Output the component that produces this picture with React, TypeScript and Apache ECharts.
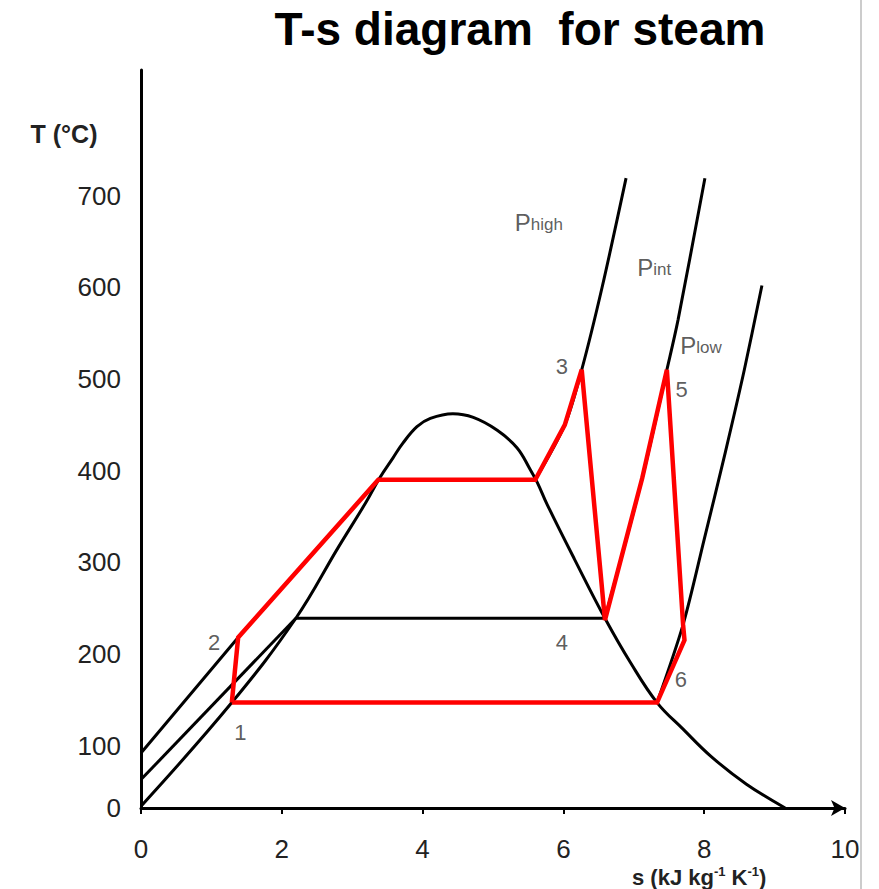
import React, { useEffect, useRef } from 'react';
import * as echarts from 'echarts';

// ---- axis ticks ----
const xTickValues = [0, 2, 4, 6, 8, 10];
const yTickValues = [32, 100, 200, 300, 400, 500, 600, 700];
const yTickLabels = ['0', '100', '200', '300', '400', '500', '600', '700'];

// ---- saturation dome (s in kJ/kg K, T in °C as drawn) ----
const domeS = [0, 1.29, 2.2, 2.8, 3.2, 3.39, 3.58, 3.72, 3.92, 4.11, 4.43, 4.72, 5.06, 5.34, 5.53, 5.63, 5.77, 6.16, 6.59, 6.95, 7.33, 7.7, 8.1, 8.6, 9.15];
const domeT = [34, 147, 239, 316, 366, 392, 414, 430, 448, 457, 462, 458, 444, 425, 401, 387, 363, 303, 239, 191, 147, 118, 88, 58, 32];

// ---- compressed-liquid isobars ----
const pHighLiqS = [0, 1.38, 3.37];
const pHighLiqT = [92, 218, 390];
const pIntLiqS = [0, 2.2];
const pIntLiqT = [63, 239];

// ---- saturation line at P_int ----
const pIntSatS = [2.2, 6.59];
const pIntSatT = [239, 239];

// ---- superheated isobars ----
const pHighSupS = [5.6, 6.02, 6.26, 6.55, 6.89];
const pHighSupT = [390, 450, 510, 600, 719];
const pIntSupS = [6.59, 7.12, 7.47, 7.63, 8.01];
const pIntSupT = [239, 392, 510, 565, 719];
const pLowSupS = [7.33, 7.7, 8.0, 8.3, 8.57, 8.82];
const pLowSupT = [147, 232, 325, 420, 510, 602];

// ---- reheat Rankine cycle (red) ----
const cycleS = [1.29, 1.38, 3.37, 5.6, 6.02, 6.26, 6.59, 7.12, 7.47, 7.7, 7.72, 7.33, 1.29];
const cycleT = [147, 218, 390, 390, 450, 510, 237, 392, 510, 232, 215, 147, 147];

// ---- state-point labels ----
const pointNames = ['1', '2', '3', '4', '5', '6'];
const pointLabelS = [1.41, 1.04, 5.98, 5.98, 7.68, 7.67];
const pointLabelT = [114, 212, 514, 213, 488, 172];

// ---- isobar labels ----
const isobarSubs = ['high', 'int', 'low'];
const isobarLabelS = [5.31, 7.05, 7.66];
const isobarLabelT = [671, 622, 537];

const zip = (a: number[], b: number[]) => a.map((v, i) => [v, b[i]]);
const FONT = "'Liberation Sans', Arial, sans-serif";

export default function App() {
  const ref = useRef<HTMLDivElement>(null);
  useEffect(() => {
    const chart = echarts.init(ref.current!, null, { renderer: 'svg' });
    const blackLine = (name: string, s: number[], t: number[], smooth: number | boolean = 0.3) => ({
      type: 'line',
      name,
      data: zip(s, t),
      showSymbol: false,
      smooth,
      silent: true,
      z: 2,
      lineStyle: { color: '#000', width: 3 },
    });
    chart.setOption({
      animation: false,
      backgroundColor: '#ffffff',
      textStyle: { fontFamily: FONT },
      grid: { left: 141, right: 34, top: 70, bottom: 81, containLabel: false },
      xAxis: {
        type: 'value',
        min: 0,
        max: 10,
        interval: 2,
        axisLine: {
          show: true,
          lineStyle: { color: '#000', width: 3 },
          symbol: ['none', 'arrow'],
          symbolSize: [12, 14],
          symbolOffset: [0, 0],
        },
        axisTick: { show: true, length: 6, lineStyle: { color: '#000', width: 2 } },
        axisLabel: { margin: 28, fontSize: 26, color: '#222', fontFamily: FONT },
        splitLine: { show: false },
      },
      yAxis: {
        type: 'value',
        min: 32,
        max: 837,
        axisLine: { show: true, lineStyle: { color: '#000', width: 3 } },
        axisTick: { show: false },
        axisLabel: {
          customValues: yTickValues,
          formatter: (v: number) => {
            const i = yTickValues.indexOf(v);
            return i >= 0 ? yTickLabels[i] : '';
          },
          margin: 20,
          fontSize: 26,
          color: '#222',
          fontFamily: FONT,
        },
        splitLine: { show: false },
      },
      graphic: [
        {
          type: 'text',
          x: 520,
          y: 29,
          style: {
            text: 'T-s diagram  for steam',
            fontSize: 46,
            fontWeight: 'bold',
            fontFamily: FONT,
            fill: '#000',
            textAlign: 'center',
            textVerticalAlign: 'middle',
          },
        },
        {
          type: 'text',
          x: 64,
          y: 134,
          style: {
            text: 'T (°C)',
            fontSize: 25,
            fontWeight: 'bold',
            fontFamily: FONT,
            fill: '#222',
            textAlign: 'center',
            textVerticalAlign: 'middle',
          },
        },
        {
          type: 'text',
          x: 632,
          y: 877,
          style: {
            text: '{n|s (kJ kg}{u|-1}{n| K}{u|-1}{n|)}',
            fontFamily: FONT,
            textAlign: 'left',
            textVerticalAlign: 'middle',
            rich: {
              n: { fontSize: 22, fontWeight: 'bold', fill: '#222', lineHeight: 24, fontFamily: FONT },
              u: { fontSize: 13, fontWeight: 'bold', fill: '#222', lineHeight: 13, verticalAlign: 'top', fontFamily: FONT },
            },
          },
        },
        {
          type: 'line',
          shape: { x1: 861, y1: 0, x2: 861, y2: 889 },
          style: { stroke: '#999', lineWidth: 1 },
        },
      ],
      series: [
        blackLine('dome', domeS, domeT, 0.4),
        blackLine('P_high liquid', pHighLiqS, pHighLiqT, 0),
        blackLine('P_int liquid', pIntLiqS, pIntLiqT, 0),
        blackLine('P_int saturation', pIntSatS, pIntSatT, 0),
        blackLine('P_high', pHighSupS, pHighSupT),
        blackLine('P_int', pIntSupS, pIntSupT),
        blackLine('P_low', pLowSupS, pLowSupT),
        {
          type: 'line',
          name: 'cycle',
          data: zip(cycleS, cycleT),
          showSymbol: false,
          smooth: false,
          silent: true,
          z: 3,
          lineStyle: { color: '#ff0000', width: 4.5, join: 'miter' },
        },
        {
          type: 'scatter',
          name: 'points',
          data: pointNames.map((n, i) => ({ name: n, value: [pointLabelS[i], pointLabelT[i]] })),
          symbolSize: 0,
          silent: true,
          z: 5,
          label: {
            show: true,
            position: 'inside',
            formatter: '{b}',
            fontSize: 22,
            color: '#333',
            fontFamily: FONT,
          },
        },
        {
          type: 'scatter',
          name: 'isobars',
          data: isobarSubs.map((n, i) => ({ name: n, value: [isobarLabelS[i], isobarLabelT[i]] })),
          symbolSize: 0,
          silent: true,
          z: 5,
          label: {
            show: true,
            position: 'right',
            distance: 0,
            formatter: (p: any) => '{p|P}{s|' + p.name + '}',
            rich: {
              p: { fontSize: 24, lineHeight: 22, color: '#333', fontFamily: FONT, verticalAlign: 'middle' },
              s: { fontSize: 17, lineHeight: 12, color: '#333', fontFamily: FONT, verticalAlign: 'bottom' },
            },
          },
        },
      ],
    });
    return () => chart.dispose();
  }, []);
  return <div ref={ref} style={{ position: 'absolute', left: 0, top: 0, width: 879, height: 889 }} />;
}
